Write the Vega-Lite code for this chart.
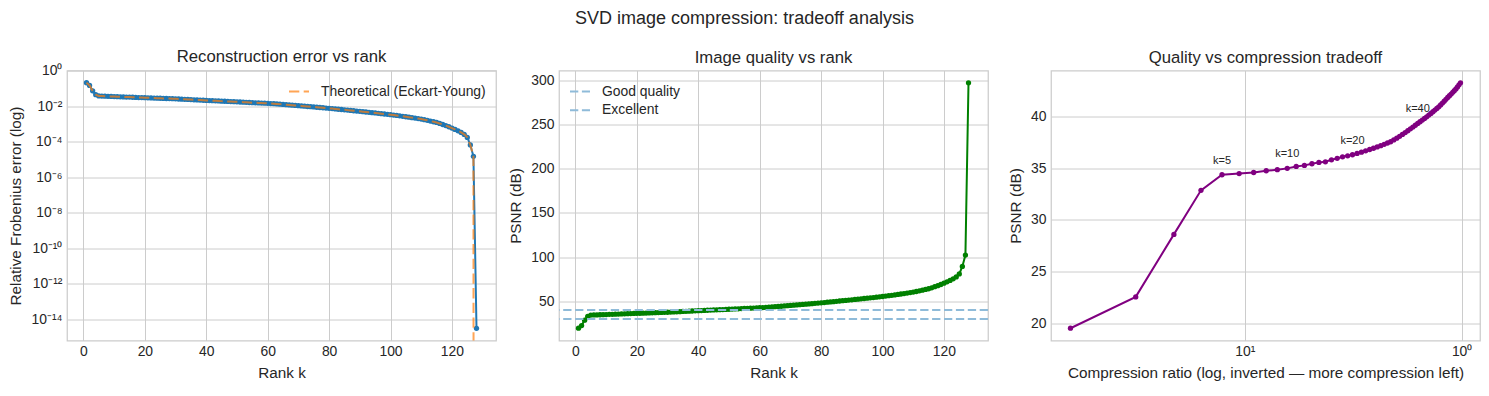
{
"$schema": "https://vega.github.io/schema/vega-lite/v6.json",
"background": "white",
"padding": {"left": 8, "top": 9.5, "right": 5, "bottom": 5},
"title": {"text": "SVD image compression: tradeoff analysis", "fontSize": 18, "anchor": "middle", "dx": 0, "offset": 20.5},
"spacing": 63,
"bounds": "flush",
"resolve": {"scale": {"color": "independent"}, "legend": {"color": "independent"}},
"datasets": {
"rank": [
{"k":1,"err":0.2113,"theo":0.2113,"psnr":19.5},{"k":2,"err":0.1489,"theo":0.1489,"psnr":22.54},{"k":3,"err":0.0741,"theo":0.0741,"psnr":28.6},{"k":4,"err":0.04533,"theo":0.04533,"psnr":32.87},{"k":5,"err":0.03811,"theo":0.03811,"psnr":34.38},{"k":6,"err":0.03758,"theo":0.03758,"psnr":34.5},{"k":7,"err":0.03715,"theo":0.03715,"psnr":34.6},{"k":8,"err":0.03643,"theo":0.03643,"psnr":34.77},{"k":9,"err":0.03601,"theo":0.03601,"psnr":34.87},{"k":10,"err":0.03548,"theo":0.03548,"psnr":35.0},
{"k":11,"err":0.03471,"theo":0.03471,"psnr":35.19},{"k":12,"err":0.03431,"theo":0.03431,"psnr":35.29},{"k":13,"err":0.03369,"theo":0.03369,"psnr":35.45},{"k":14,"err":0.03319,"theo":0.03319,"psnr":35.58},{"k":15,"err":0.03296,"theo":0.03296,"psnr":35.64},{"k":16,"err":0.03225,"theo":0.03225,"psnr":35.83},{"k":17,"err":0.03173,"theo":0.03173,"psnr":35.97},{"k":18,"err":0.03119,"theo":0.03119,"psnr":36.12},{"k":19,"err":0.03083,"theo":0.03083,"psnr":36.22},{"k":20,"err":0.03048,"theo":0.03048,"psnr":36.32},
{"k":21,"err":0.03003,"theo":0.03003,"psnr":36.45},{"k":22,"err":0.02961,"theo":0.02961,"psnr":36.57},{"k":23,"err":0.02917,"theo":0.02917,"psnr":36.7},{"k":24,"err":0.02874,"theo":0.02874,"psnr":36.83},{"k":25,"err":0.02834,"theo":0.02834,"psnr":36.95},{"k":26,"err":0.02793,"theo":0.02793,"psnr":37.08},{"k":27,"err":0.02754,"theo":0.02754,"psnr":37.2},{"k":28,"err":0.02713,"theo":0.02713,"psnr":37.33},{"k":29,"err":0.02673,"theo":0.02673,"psnr":37.46},{"k":30,"err":0.02636,"theo":0.02636,"psnr":37.58},
{"k":31,"err":0.02582,"theo":0.02582,"psnr":37.76},{"k":32,"err":0.02532,"theo":0.02532,"psnr":37.93},{"k":33,"err":0.0248,"theo":0.0248,"psnr":38.11},{"k":34,"err":0.02429,"theo":0.02429,"psnr":38.29},{"k":35,"err":0.02379,"theo":0.02379,"psnr":38.47},{"k":36,"err":0.0233,"theo":0.0233,"psnr":38.65},{"k":37,"err":0.02282,"theo":0.02282,"psnr":38.83},{"k":38,"err":0.02239,"theo":0.02239,"psnr":39.0},{"k":39,"err":0.02193,"theo":0.02193,"psnr":39.18},{"k":40,"err":0.02148,"theo":0.02148,"psnr":39.36},
{"k":41,"err":0.02109,"theo":0.02109,"psnr":39.52},{"k":42,"err":0.0207,"theo":0.0207,"psnr":39.68},{"k":43,"err":0.02032,"theo":0.02032,"psnr":39.84},{"k":44,"err":0.01995,"theo":0.01995,"psnr":40.0},{"k":45,"err":0.01956,"theo":0.01956,"psnr":40.17},{"k":46,"err":0.0192,"theo":0.0192,"psnr":40.33},{"k":47,"err":0.01885,"theo":0.01885,"psnr":40.49},{"k":48,"err":0.01851,"theo":0.01851,"psnr":40.65},{"k":49,"err":0.01817,"theo":0.01817,"psnr":40.81},{"k":50,"err":0.01784,"theo":0.01784,"psnr":40.97},
{"k":51,"err":0.01748,"theo":0.01748,"psnr":41.15},{"k":52,"err":0.01712,"theo":0.01712,"psnr":41.33},{"k":53,"err":0.01677,"theo":0.01677,"psnr":41.51},{"k":54,"err":0.01641,"theo":0.01641,"psnr":41.7},{"k":55,"err":0.01607,"theo":0.01607,"psnr":41.88},{"k":56,"err":0.01578,"theo":0.01578,"psnr":42.04},{"k":57,"err":0.01549,"theo":0.01549,"psnr":42.2},{"k":58,"err":0.01519,"theo":0.01519,"psnr":42.37},{"k":59,"err":0.01491,"theo":0.01491,"psnr":42.53},{"k":60,"err":0.01462,"theo":0.01462,"psnr":42.7},
{"k":61,"err":0.01429,"theo":0.01429,"psnr":42.9},{"k":62,"err":0.01396,"theo":0.01396,"psnr":43.1},{"k":63,"err":0.01365,"theo":0.01365,"psnr":43.3},{"k":64,"err":0.01326,"theo":0.01326,"psnr":43.55},{"k":65,"err":0.01281,"theo":0.01281,"psnr":43.85},{"k":66,"err":0.01238,"theo":0.01238,"psnr":44.15},{"k":67,"err":0.01202,"theo":0.01202,"psnr":44.4},{"k":68,"err":0.01161,"theo":0.01161,"psnr":44.7},{"k":69,"err":0.01122,"theo":0.01122,"psnr":45.0},{"k":70,"err":0.01084,"theo":0.01084,"psnr":45.3},
{"k":71,"err":0.01047,"theo":0.01047,"psnr":45.6},{"k":72,"err":0.01012,"theo":0.01012,"psnr":45.9},{"k":73,"err":0.009772,"theo":0.009772,"psnr":46.2},{"k":74,"err":0.009495,"theo":0.009495,"psnr":46.45},{"k":75,"err":0.009173,"theo":0.009173,"psnr":46.75},{"k":76,"err":0.008861,"theo":0.008861,"psnr":47.05},{"k":77,"err":0.008561,"theo":0.008561,"psnr":47.35},{"k":78,"err":0.00827,"theo":0.00827,"psnr":47.65},{"k":79,"err":0.00799,"theo":0.00799,"psnr":47.95},{"k":80,"err":0.007674,"theo":0.007674,"psnr":48.3},
{"k":81,"err":0.007413,"theo":0.007413,"psnr":48.6},{"k":82,"err":0.00712,"theo":0.00712,"psnr":48.95},{"k":83,"err":0.006839,"theo":0.006839,"psnr":49.3},{"k":84,"err":0.006607,"theo":0.006607,"psnr":49.6},{"k":85,"err":0.006346,"theo":0.006346,"psnr":49.95},{"k":86,"err":0.006095,"theo":0.006095,"psnr":50.3},{"k":87,"err":0.005855,"theo":0.005855,"psnr":50.65},{"k":88,"err":0.005623,"theo":0.005623,"psnr":51.0},{"k":89,"err":0.005401,"theo":0.005401,"psnr":51.35},{"k":90,"err":0.005188,"theo":0.005188,"psnr":51.7},
{"k":91,"err":0.004983,"theo":0.004983,"psnr":52.05},{"k":92,"err":0.004786,"theo":0.004786,"psnr":52.4},{"k":93,"err":0.004571,"theo":0.004571,"psnr":52.8},{"k":94,"err":0.00439,"theo":0.00439,"psnr":53.15},{"k":95,"err":0.004217,"theo":0.004217,"psnr":53.5},{"k":96,"err":0.004027,"theo":0.004027,"psnr":53.9},{"k":97,"err":0.003868,"theo":0.003868,"psnr":54.25},{"k":98,"err":0.003694,"theo":0.003694,"psnr":54.65},{"k":99,"err":0.003548,"theo":0.003548,"psnr":55.0},{"k":100,"err":0.003388,"theo":0.003388,"psnr":55.4},
{"k":101,"err":0.003217,"theo":0.003217,"psnr":55.85},{"k":102,"err":0.003055,"theo":0.003055,"psnr":56.3},{"k":103,"err":0.002901,"theo":0.002901,"psnr":56.75},{"k":104,"err":0.002739,"theo":0.002739,"psnr":57.25},{"k":105,"err":0.002585,"theo":0.002585,"psnr":57.75},{"k":106,"err":0.00244,"theo":0.00244,"psnr":58.25},{"k":107,"err":0.002304,"theo":0.002304,"psnr":58.75},{"k":108,"err":0.002163,"theo":0.002163,"psnr":59.3},{"k":109,"err":0.00203,"theo":0.00203,"psnr":59.85},{"k":110,"err":0.001905,"theo":0.001905,"psnr":60.4},
{"k":111,"err":0.001758,"theo":0.001758,"psnr":61.1},{"k":112,"err":0.001622,"theo":0.001622,"psnr":61.8},{"k":113,"err":0.001479,"theo":0.001479,"psnr":62.6},{"k":114,"err":0.001349,"theo":0.001349,"psnr":63.4},{"k":115,"err":0.00123,"theo":0.00123,"psnr":64.2},{"k":116,"err":0.001084,"theo":0.001084,"psnr":65.3},{"k":117,"err":0.000944,"theo":0.000944,"psnr":66.5},{"k":118,"err":0.000822,"theo":0.000822,"psnr":67.7},{"k":119,"err":0.000708,"theo":0.000708,"psnr":69.0},{"k":120,"err":0.000596,"theo":0.000596,"psnr":70.5},
{"k":121,"err":0.000501,"theo":0.000501,"psnr":72.0},{"k":122,"err":0.000417,"theo":0.000417,"psnr":73.6},{"k":123,"err":0.000339,"theo":0.000339,"psnr":75.4},{"k":124,"err":0.000263,"theo":0.000263,"psnr":77.6},{"k":125,"err":0.000178,"theo":0.000178,"psnr":81.0},{"k":126,"err":0.0000668,"theo":0.0000668,"psnr":89.5},{"k":127,"err":0.0000153,"theo":0.0000153,"psnr":102.3},{"k":128,"err":3.2e-15,"theo":1e-300,"psnr":297.4}
],
"ratio": [
{"k":1,"ratio":63.75,"psnr":19.5},{"k":2,"ratio":31.875,"psnr":22.54},{"k":3,"ratio":21.25,"psnr":28.6},{"k":4,"ratio":15.9375,"psnr":32.87},{"k":5,"ratio":12.75,"psnr":34.38},{"k":6,"ratio":10.625,"psnr":34.5},{"k":7,"ratio":9.107,"psnr":34.6},{"k":8,"ratio":7.969,"psnr":34.77},{"k":9,"ratio":7.083,"psnr":34.87},{"k":10,"ratio":6.375,"psnr":35.0},
{"k":11,"ratio":5.795,"psnr":35.19},{"k":12,"ratio":5.3125,"psnr":35.29},{"k":13,"ratio":4.904,"psnr":35.45},{"k":14,"ratio":4.554,"psnr":35.58},{"k":15,"ratio":4.25,"psnr":35.64},{"k":16,"ratio":3.984,"psnr":35.83},{"k":17,"ratio":3.75,"psnr":35.97},{"k":18,"ratio":3.542,"psnr":36.12},{"k":19,"ratio":3.355,"psnr":36.22},{"k":20,"ratio":3.1875,"psnr":36.32},
{"k":21,"ratio":3.036,"psnr":36.45},{"k":22,"ratio":2.898,"psnr":36.57},{"k":23,"ratio":2.772,"psnr":36.7},{"k":24,"ratio":2.656,"psnr":36.83},{"k":25,"ratio":2.55,"psnr":36.95},{"k":26,"ratio":2.452,"psnr":37.08},{"k":27,"ratio":2.361,"psnr":37.2},{"k":28,"ratio":2.277,"psnr":37.33},{"k":29,"ratio":2.198,"psnr":37.46},{"k":30,"ratio":2.125,"psnr":37.58},
{"k":31,"ratio":2.056,"psnr":37.76},{"k":32,"ratio":1.992,"psnr":37.93},{"k":33,"ratio":1.932,"psnr":38.11},{"k":34,"ratio":1.875,"psnr":38.29},{"k":35,"ratio":1.821,"psnr":38.47},{"k":36,"ratio":1.771,"psnr":38.65},{"k":37,"ratio":1.723,"psnr":38.83},{"k":38,"ratio":1.678,"psnr":39.0},{"k":39,"ratio":1.635,"psnr":39.18},{"k":40,"ratio":1.594,"psnr":39.36},
{"k":41,"ratio":1.555,"psnr":39.52},{"k":42,"ratio":1.518,"psnr":39.68},{"k":43,"ratio":1.483,"psnr":39.84},{"k":44,"ratio":1.449,"psnr":40.0},{"k":45,"ratio":1.417,"psnr":40.17},{"k":46,"ratio":1.386,"psnr":40.33},{"k":47,"ratio":1.356,"psnr":40.49},{"k":48,"ratio":1.328,"psnr":40.65},{"k":49,"ratio":1.301,"psnr":40.81},{"k":50,"ratio":1.275,"psnr":40.97},
{"k":51,"ratio":1.25,"psnr":41.15},{"k":52,"ratio":1.226,"psnr":41.33},{"k":53,"ratio":1.203,"psnr":41.51},{"k":54,"ratio":1.181,"psnr":41.7},{"k":55,"ratio":1.159,"psnr":41.88},{"k":56,"ratio":1.138,"psnr":42.04},{"k":57,"ratio":1.118,"psnr":42.2},{"k":58,"ratio":1.099,"psnr":42.37},{"k":59,"ratio":1.081,"psnr":42.53},{"k":60,"ratio":1.0625,"psnr":42.7},
{"k":61,"ratio":1.045,"psnr":42.9},{"k":62,"ratio":1.028,"psnr":43.1},{"k":63,"ratio":1.012,"psnr":43.3}
],
"ann": [
{"ratio":12.75,"psnr":34.38,"label":"k=5"},{"ratio":6.375,"psnr":35.0,"label":"k=10"},{"ratio":3.1875,"psnr":36.32,"label":"k=20"},{"ratio":1.594,"psnr":39.36,"label":"k=40"}
],
"ref": [{"v":30,"name":"Good quality"},{"v":40,"name":"Excellent"}]
},
"hconcat": [
{
"width": 429, "height": 270,
"title": {"text": "Reconstruction error vs rank", "offset": -1.6},
"data": {"name": "rank"},
"layer": [
{"mark": {"type": "line", "color": "#1f77b4", "strokeWidth": 2, "point": {"filled": true, "size": 28, "color": "#1f77b4"}},
 "encoding": {
  "x": {"field": "k", "type": "quantitative", "scale": {"domain": [-5.35, 134.35], "nice": false, "zero": false}, "axis": {"values": [0,20,40,60,80,100,120], "title": "Rank k"}},
  "y": {"field": "err", "type": "quantitative", "scale": {"type": "log", "domain": [6.6e-16, 1.035], "nice": false}, "title": "Relative Frobenius error (log)",
        "axis": {"values": [1,1e-2,1e-4,1e-6,1e-8,1e-10,1e-12,1e-14], "labelExpr": "'10' + ['⁰','⁻²','⁻⁴','⁻⁶','⁻⁸','⁻¹⁰','⁻¹²','⁻¹⁴'][round(-log(datum.value)/LN10/2)]"}}
 }},
{"mark": {"type": "line", "strokeDash": [10.3, 4.4], "strokeWidth": 2, "strokeOpacity": 0.7, "clip": true},
 "encoding": {
  "x": {"field": "k", "type": "quantitative"},
  "y": {"field": "theo", "type": "quantitative", "title": "Relative Frobenius error (log)"},
  "color": {"datum": "Theoretical (Eckart-Young)", "type": "nominal", "scale": {"range": ["#ff7f0e"]},
            "legend": {"title": null, "orient": "top-right", "labelLimit": 400, "symbolDash": [10.3, 4.4], "symbolStrokeWidth": 2, "symbolOpacity": 0.7}}
 }}
]
},
{
"width": 429, "height": 270,
"title": {"text": "Image quality vs rank", "offset": 3.5},
"layer": [
{"data": {"name": "rank"},
 "mark": {"type": "line", "color": "#008000", "strokeWidth": 2, "point": {"filled": true, "size": 28, "color": "#008000"}},
 "encoding": {
  "x": {"field": "k", "type": "quantitative", "scale": {"domain": [-5.35, 134.35], "nice": false, "zero": false}, "axis": {"values": [0,20,40,60,80,100,120], "title": "Rank k"}},
  "y": {"field": "psnr", "type": "quantitative", "scale": {"domain": [5.6, 311.3], "nice": false, "zero": false}, "title": "PSNR (dB)", "axis": {"values": [50,100,150,200,250,300]}}
 }},
{"data": {"name": "ref"},
 "mark": {"type": "rule", "strokeDash": [8.3, 3.6], "strokeWidth": 2},
 "encoding": {
  "y": {"field": "v", "type": "quantitative", "title": "PSNR (dB)"},
  "color": {"field": "name", "type": "nominal", "scale": {"domain": ["Good quality", "Excellent"], "range": ["#8fbbd9", "#8fbbd9"]},
            "legend": {"title": null, "orient": "top-left", "labelLimit": 400, "symbolDash": [8.3, 3.6], "symbolStrokeWidth": 2}}
 }}
]
},
{
"width": 429, "height": 270,
"title": {"text": "Quality vs compression tradeoff", "offset": 3.5},
"layer": [
{"data": {"name": "ratio"},
 "mark": {"type": "line", "color": "#800080", "strokeWidth": 2, "point": {"filled": true, "size": 28, "color": "#800080"}},
 "encoding": {
  "x": {"field": "ratio", "type": "quantitative", "scale": {"type": "log", "domain": [0.8226, 78.4], "reverse": true, "nice": false},
        "title": "Compression ratio (log, inverted — more compression left)",
        "axis": {"values": [10, 1], "labelExpr": "datum.value > 5 ? '10¹' : '10⁰'"}},
  "y": {"field": "psnr", "type": "quantitative", "scale": {"domain": [18.31, 44.49], "nice": false, "zero": false}, "title": "PSNR (dB)", "axis": {"values": [20,25,30,35,40]}}
 }},
{"data": {"name": "ann"},
 "mark": {"type": "text", "dy": -11, "baseline": "alphabetic", "align": "center", "fontSize": 11, "color": "#262626"},
 "encoding": {
  "x": {"field": "ratio", "type": "quantitative"},
  "y": {"field": "psnr", "type": "quantitative"},
  "text": {"field": "label"}
 }}
]
}
],
"config": {
 "font": "Liberation Sans",
 "view": {"stroke": "#cccccc", "strokeWidth": 1.25},
 "axis": {"grid": true, "gridColor": "#cccccc", "gridWidth": 1, "gridOpacity": 1, "domain": false, "ticks": false,
          "labelFont": "Liberation Sans", "labelFontSize": 13.9, "labelColor": "#262626", "labelPadding": 5,
          "titleFont": "Liberation Sans", "titleFontSize": 15.3, "titleFontWeight": "normal", "titleColor": "#262626"},
 "axisX": {"labelPadding": 4, "titlePadding": 7},
 "axisY": {"titlePadding": 7},
 "title": {"font": "Liberation Sans", "fontSize": 16.7, "fontWeight": "normal", "color": "#262626", "offset": 7},
 "legend": {"labelFont": "Liberation Sans", "labelFontSize": 13.9, "labelColor": "#262626", "symbolType": "stroke", "symbolSize": 400,
            "labelOffset": 11, "padding": 0, "offset": 10, "rowPadding": 0.7}
}
}
